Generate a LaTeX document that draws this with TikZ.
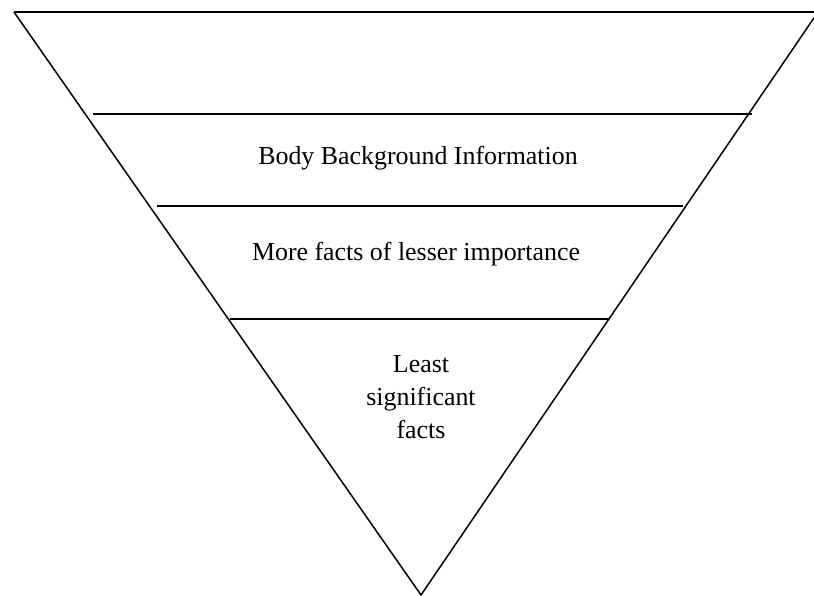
\documentclass[tikz,border=0pt]{standalone}
\usepackage{fontspec}
\setmainfont{Liberation Serif}
\begin{document}
\begin{tikzpicture}[x=1bp,y=-1bp,
  edge/.style={line width=1.5bp,black},
  lbl/.style={font=\fontsize{25.9bp}{33bp}\selectfont,align=center,inner sep=0pt}]
\useasboundingbox (0,0) rectangle (814,596);
\clip (0,0) rectangle (814,596);
\coordinate (tl) at (14,12);
\coordinate (tr) at (818,12);
\coordinate (ap) at (421,595);
\draw[edge] (tl) -- (ap) -- (tr);
\draw[line width=1.9bp] (tl) -- (830,12);
\coordinate (a1) at (93,114); \coordinate (b1) at (752,114);
\coordinate (a2) at (157,206); \coordinate (b2) at (683,206);
\coordinate (a3) at (230,319); \coordinate (b3) at (610,319);
\draw[edge] (a1) -- (b1);
\draw[edge] (a2) -- (b2);
\draw[edge] (a3) -- (b3);
\node[lbl,anchor=base] (t1) at (418,165) {Body Background Information};
\node[lbl,anchor=base] (t2) at (416,260) {More facts of lesser importance};
\node[lbl,anchor=base] (t3) at (421,438) {Least\\significant\\facts};
\end{tikzpicture}
\end{document}
